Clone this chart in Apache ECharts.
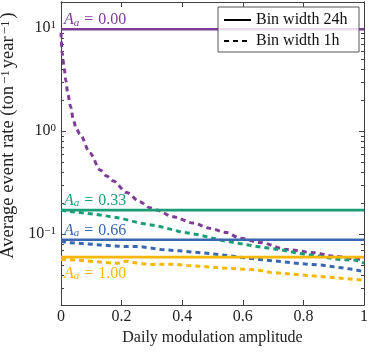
<!DOCTYPE html>
<html>
<head>
<meta charset="utf-8">
<title>Average event rate vs daily modulation amplitude</title>
<script src="https://cdn.jsdelivr.net/npm/echarts@6/dist/echarts.min.js"></script>
<style>
  html, body { margin: 0; padding: 0; background: #fff; }
  #chart { width: 374px; height: 352px; }
</style>
</head>
<body>
<div id="chart"></div>
<script>
// 1h bin curves (rate in ton^-1 year^-1)
var ampA000 = [0, 0.004, 0.01, 0.016, 0.022, 0.032, 0.041, 0.05, 0.063, 0.096, 0.129, 0.151, 0.173, 0.217, 0.26, 0.294, 0.316, 0.37, 0.436, 0.49, 0.546, 0.59, 0.658, 0.746, 0.834, 0.9, 0.977, 1];
var rate1hA000 = [9.0, 5.7, 4.2, 3.1, 2.34, 1.72, 1.28, 1.06, 0.93, 0.61, 0.42, 0.366, 0.327, 0.253, 0.206, 0.18, 0.171, 0.147, 0.128, 0.114, 0.1035, 0.0914, 0.0827, 0.0708, 0.066, 0.061, 0.0572, 0.056];

var ampGrid = [0, 0.02, 0.07, 0.13, 0.195, 0.26, 0.33, 0.39, 0.46, 0.525, 0.59, 0.66, 0.73, 0.79, 0.86, 0.92, 0.97, 1];
var rate1hA033 = [0.171, 0.167, 0.161, 0.153, 0.143, 0.128, 0.118, 0.106, 0.0977, 0.0875, 0.081, 0.0748, 0.070, 0.0647, 0.0605, 0.0565, 0.056, 0.0523];
var rate1hA066 = [0.0855, 0.0827, 0.081, 0.0785, 0.076, 0.0756, 0.071, 0.0688, 0.066, 0.0632, 0.0598, 0.0565, 0.054, 0.0517, 0.05, 0.0473, 0.0452, 0.0431];

var ampA100 = [0, 0.05, 0.13, 0.185, 0.215, 0.26, 0.3, 0.37, 0.415, 0.48, 0.55, 0.6, 0.65, 0.69, 0.76, 0.82, 0.88, 0.94, 1];
var rate1hA100 = [0.0568, 0.056, 0.0535, 0.052, 0.0547, 0.0517, 0.0508, 0.051, 0.0497, 0.0482, 0.0465, 0.0457, 0.0447, 0.0425, 0.0409, 0.0395, 0.0383, 0.037, 0.0357];

// 24h bins: flat rates
var rate24h = [9.75, 0.171, 0.088, 0.0598];
var aaLabels = ['0.00', '0.33', '0.66', '1.00'];
var colors = ['#803d97', '#1b9e77', '#3a67b0', '#f5b70a'];

var yDecades = [-1, 0, 1];
var legendNames = ['Bin width 24h', 'Bin width 1h'];

var FONT = '"Liberation Serif", "DejaVu Serif", serif';
var AXIS = '#404040';
var INK = '#222';

function lg(v) { return Math.log10(v); }
function pairs(xs, ys) {
  return xs.map(function (x, i) { return [x, lg(ys[i])]; });
}

// y is drawn on log10 values
var yMin = lg(0.0205);
var yMax = lg(17.9);
var minorTicks = [];
[-2, -1, 0, 1].forEach(function (d) {
  for (var k = 2; k <= 9; k++) {
    var v = d + lg(k);
    if (v > yMin && v < yMax) minorTicks.push(v);
  }
});

var curves = [
  [ampA000, rate1hA000],
  [ampGrid, rate1hA033],
  [ampGrid, rate1hA066],
  [ampA100, rate1hA100]
];

function yAxis(position, ticks, len, showLabel) {
  return {
    type: 'value', min: yMin, max: yMax, position: position,
    axisLine: { show: true, lineStyle: { color: AXIS, width: 1 } },
    axisTick: { show: true, inside: true, length: len, customValues: ticks, lineStyle: { color: AXIS } },
    axisLabel: showLabel ? {
      show: true, margin: 5, customValues: yDecades,
      formatter: function (v) {
        var e = Math.round(v);
        return '{b|10}{s|' + (e < 0 ? '\u2212' : '') + Math.abs(e) + '}';
      },
      rich: {
        b: { fontFamily: FONT, fontSize: 16, color: INK, lineHeight: 16 },
        s: { fontFamily: FONT, fontSize: 11, color: INK, lineHeight: 8, verticalAlign: 'top' }
      }
    } : { show: false },
    splitLine: { show: false }
  };
}

function xAxis(position, showLabel) {
  return {
    type: 'value', min: 0, max: 1, interval: 0.2, position: position,
    axisLine: { show: true, onZero: false, lineStyle: { color: AXIS, width: 1 } },
    axisTick: { show: true, inside: true, length: 5, lineStyle: { color: AXIS } },
    axisLabel: showLabel ? { show: true, margin: 4, fontFamily: FONT, fontSize: 16, color: INK } : { show: false },
    splitLine: { show: false }
  };
}

var series = [];
rate24h.forEach(function (v, i) {
  var below = i === 3;
  series.push({
    type: 'line', xAxisIndex: 0, yAxisIndex: 0, symbol: 'none', silent: true,
    data: [[0, lg(v)], [1, lg(v)]],
    lineStyle: { color: colors[i], width: 2.6 },
    markPoint: {
      symbol: 'circle', symbolSize: 0, animation: false,
      data: [{ coord: [0, lg(v)] }],
      label: {
        show: true, position: 'right', distance: 3, offset: [0, below ? 17 : -9],
        formatter: '{i|A}{sub|a}{eq|=}{t|' + aaLabels[i] + '}',
        rich: {
          i: { fontFamily: FONT, fontSize: 16, fontStyle: 'italic', color: colors[i], lineHeight: 16 },
          sub: { fontFamily: FONT, fontSize: 11, fontStyle: 'italic', color: colors[i], lineHeight: 6, verticalAlign: 'bottom' },
          eq: { fontFamily: FONT, fontSize: 16, color: colors[i], lineHeight: 16, padding: [0, 5, 0, 5] },
          t: { fontFamily: FONT, fontSize: 16, color: colors[i], lineHeight: 16 }
        }
      }
    }
  });
  series.push({
    type: 'line', xAxisIndex: 0, yAxisIndex: 0, symbol: 'none', silent: true,
    data: pairs(curves[i][0], curves[i][1]),
    smooth: i === 0 ? 0.3 : false, smoothMonotone: 'x',
    lineStyle: { color: colors[i], width: 3, type: [5, 4], cap: 'butt' }
  });
});

// legend entries only
series.push({ name: legendNames[0], type: 'line', symbol: 'none', data: [], color: '#000', lineStyle: { color: '#000', width: 2.6 } });
series.push({ name: legendNames[1], type: 'line', symbol: 'none', data: [], color: '#000', lineStyle: { color: '#000', width: 2.6, type: [5, 4] } });

var chart = echarts.init(document.getElementById('chart'), null, { renderer: 'canvas' });
chart.setOption({
  animation: false,
  backgroundColor: '#fff',
  grid: { left: 61, right: 10, top: 2, bottom: 47, containLabel: false, outerBoundsMode: 'none' },
  legend: {
    data: legendNames, orient: 'vertical', right: 15, top: 7,
    padding: [5, 6, 3, 5], itemGap: 5, itemWidth: 27, itemHeight: 16,
    backgroundColor: 'rgba(255,255,255,0.82)', borderColor: '#555', borderWidth: 1, borderRadius: 0,
    selectedMode: false,
    itemStyle: { opacity: 0 },
    textStyle: { fontFamily: FONT, fontSize: 16, lineHeight: 16, width: 97, color: '#111' }
  },
  xAxis: [
    Object.assign(xAxis('bottom', true), {
      name: 'Daily modulation amplitude', nameLocation: 'middle', nameGap: 24,
      nameTextStyle: { fontFamily: FONT, fontSize: 16, color: INK }
    }),
    xAxis('top', false)
  ],
  yAxis: [
    Object.assign(yAxis('left', yDecades, 5, true), {
      name: '{t|Average event rate (ton}{s|\u22121}{t|year}{s|\u22121}{t|)}',
      nameLocation: 'middle', nameGap: 37, nameRotate: 90,
      nameTextStyle: {
        padding: [0, 0, 0, 36],
        rich: {
          t: { fontFamily: FONT, fontSize: 18.5, color: INK, lineHeight: 18 },
          s: { fontFamily: FONT, fontSize: 13, color: INK, lineHeight: 10, verticalAlign: 'top', padding: [0, 2, 0, 2] }
        }
      }
    }),
    yAxis('left', minorTicks, 3, false),
    yAxis('right', yDecades, 5, false),
    yAxis('right', minorTicks, 3, false)
  ],
  series: series
});
</script>
</body>
</html>
